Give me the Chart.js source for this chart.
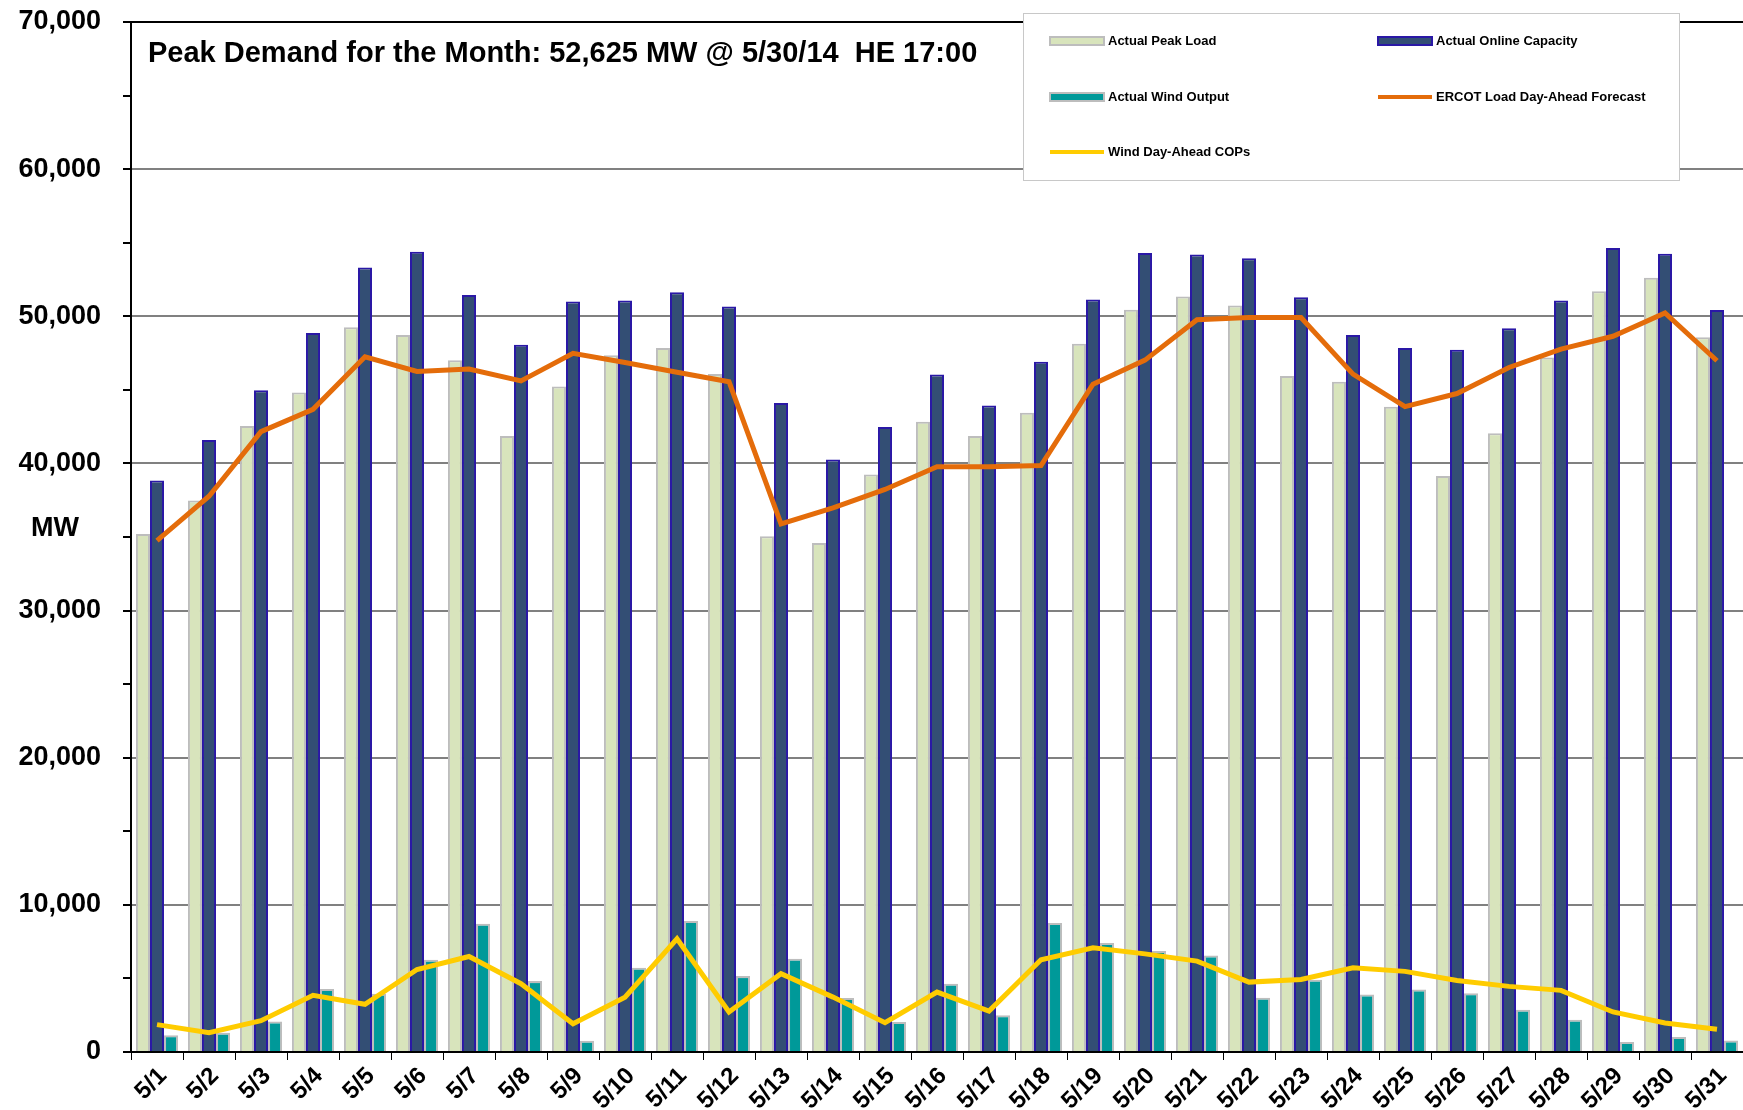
<!DOCTYPE html>
<html>
<head>
<meta charset="utf-8">
<script src="https://cdn.jsdelivr.net/npm/chart.js@4"></script>
<style>
  html, body { margin: 0; padding: 0; background: #fff; overflow: hidden; }
  canvas { display: block; }
</style>
</head>
<body>
<canvas id="peakChart" width="1743" height="1110"></canvas>
<script>
// Categories (days of May 2014)
const days = ['5/1', '5/2', '5/3', '5/4', '5/5', '5/6', '5/7', '5/8', '5/9', '5/10',
  '5/11', '5/12', '5/13', '5/14', '5/15', '5/16', '5/17', '5/18', '5/19', '5/20',
  '5/21', '5/22', '5/23', '5/24', '5/25', '5/26', '5/27', '5/28', '5/29', '5/30', '5/31'];

// Series values (MW)
const peakLoad = [35200, 37480, 42550, 44820, 49250, 48720, 47020, 41860, 45230, 47360,
  47840, 46070, 35050, 34590, 39250, 42840, 41860, 43450, 48140, 50450,
  51340, 50730, 45950, 45550, 43860, 39140, 42050, 47200, 51700, 52625, 48570];
const onlineCapacity = [38840, 41590, 44980, 48860, 53320, 54390, 51450, 48070, 51000, 51070,
  51640, 50660, 44110, 40270, 42480, 46050, 43930, 46910, 51140, 54300,
  54200, 53950, 51300, 48730, 47840, 47730, 49180, 51070, 54640, 54250, 50430];
const windOutput = [1130, 1300, 2080, 4280, 3960, 6270, 8710, 4820, 770, 5720,
  8910, 5160, 6340, 3670, 2040, 4640, 2490, 8760, 7400, 6860,
  6560, 3690, 4910, 3910, 4250, 4000, 2870, 2200, 680, 1020, 790];
const loadForecast = [34750, 37770, 42160, 43680, 47250, 46250, 46410, 45610, 47480, 46860,
  46200, 45550, 35890, 36980, 38230, 39770, 39770, 39860, 45390, 47020,
  49770, 49910, 49910, 46070, 43860, 44750, 46520, 47770, 48640, 50230, 46980];
const windCops = [1860, 1310, 2130, 3850, 3240, 5610, 6490, 4640, 1920, 3730,
  7690, 2720, 5320, 3730, 1990, 4070, 2780, 6270, 7080, 6670,
  6180, 4750, 4930, 5720, 5480, 4860, 4460, 4190, 2720, 1970, 1540];

// Labelled y ticks
const yTickLabels = [0, 10000, 20000, 30000, 40000, 50000, 60000, 70000];

const titleText = 'Peak Demand for the Month: 52,625 MW @ 5/30/14  HE 17:00';
const FONT = '"Liberation Sans", Arial, sans-serif';

// title, MW label and the boxed two-column legend
const overlay = {
    id: 'overlay',
    afterDraw(chart) {
        const ctx = chart.ctx;
        const area = chart.chartArea;
        ctx.save();
        ctx.fillStyle = '#000';
        ctx.textBaseline = 'middle';
        ctx.font = 'bold 29px ' + FONT;
        ctx.fillText(titleText, area.left + 17, area.top + 32);

        ctx.font = 'bold 27px ' + FONT;
        ctx.textAlign = 'center';
        ctx.fillText('MW', 55, 529);

        // legend box
        ctx.fillStyle = '#fff';
        ctx.fillRect(1023, 13, 656, 167);
        ctx.strokeStyle = '#c8c8c8';
        ctx.lineWidth = 1;
        ctx.strokeRect(1023.5, 13.5, 656, 167);

        const slots = [[1050, 41], [1378, 41], [1050, 97], [1378, 97], [1050, 152]];
        chart.data.datasets.forEach((ds, i) => {
            const [x, y] = slots[i];
            if (ds.type === 'line') {
                ctx.strokeStyle = ds.borderColor;
                ctx.lineWidth = 4;
                ctx.beginPath();
                ctx.moveTo(x, y);
                ctx.lineTo(x + 54, y);
                ctx.stroke();
            } else {
                ctx.fillStyle = ds.backgroundColor;
                ctx.fillRect(x, y - 4, 54, 8);
                ctx.strokeStyle = ds.borderColor;
                ctx.lineWidth = 2;
                ctx.strokeRect(x, y - 4, 54, 8);
            }
            ctx.fillStyle = '#000';
            ctx.textAlign = 'left';
            ctx.font = 'bold 13px ' + FONT;
            ctx.fillText(ds.label, x + 58, y);
        });
        ctx.restore();
    }
};

const ctx = document.getElementById('peakChart').getContext('2d');
new Chart(ctx, {
    type: 'bar',
    data: {
        labels: days,
        datasets: [
            {
                label: 'Actual Peak Load', data: peakLoad,
                backgroundColor: '#d8e4bc', borderColor: '#bdbdbd',
                borderWidth: 2, borderSkipped: 'bottom', order: 2
            },
            {
                label: 'Actual Online Capacity', data: onlineCapacity,
                backgroundColor: '#334e74', borderColor: '#2a18a6',
                borderWidth: 2, borderSkipped: 'bottom', order: 2
            },
            {
                label: 'Actual Wind Output', data: windOutput,
                backgroundColor: '#009999', borderColor: '#bdbdbd',
                borderWidth: 2, borderSkipped: 'bottom', order: 2
            },
            {
                type: 'line', label: 'ERCOT Load Day-Ahead Forecast', data: loadForecast,
                borderColor: '#e46c0a', backgroundColor: '#e46c0a',
                borderWidth: 5, pointRadius: 0, tension: 0, order: 1
            },
            {
                type: 'line', label: 'Wind Day-Ahead COPs', data: windCops,
                borderColor: '#ffcc00', backgroundColor: '#ffcc00',
                borderWidth: 5, pointRadius: 0, tension: 0, order: 0
            }
        ]
    },
    options: {
        responsive: false,
        animation: false,
        devicePixelRatio: 1,
        layout: { padding: { top: 22, left: 0, right: 0, bottom: 0 } },
        datasets: { bar: { categoryPercentage: 0.81, barPercentage: 1.0 } },
        plugins: { legend: { display: false }, tooltip: { enabled: false } },
        scales: {
            x: {
                grid: { drawOnChartArea: false, drawTicks: true, tickLength: 8, tickColor: '#000', offset: true },
                border: { color: '#000', width: 2 },
                ticks: {
                    color: '#000', font: { family: FONT, weight: 'bold', size: 24 },
                    minRotation: 45, maxRotation: 45, autoSkip: false, labelOffset: 6, padding: 2
                },
                afterFit: s => { s.height = 58; s.paddingLeft = 0; s.paddingRight = 0; }
            },
            y: {
                min: 0, max: 70000,
                grid: {
                    color: c => c.tick.value === 70000 || c.tick.value === 0 ? '#000'
                        : (c.tick.value % 10000 === 0 ? '#808080' : 'rgba(0,0,0,0)'),
                    lineWidth: 2, tickColor: '#000', tickLength: 8, drawTicks: true
                },
                border: { color: '#000', width: 2 },
                ticks: {
                    stepSize: 5000, autoSkip: false, color: '#000', padding: 22,
                    font: { family: FONT, weight: 'bold', size: 27 },
                    callback: v => yTickLabels.includes(v) ? v.toLocaleString('en-US') : ''
                },
                afterFit: s => { s.width = 131; s.paddingTop = 0; s.paddingBottom = 0; }
            }
        }
    },
    plugins: [overlay]
});
</script>
</body>
</html>
